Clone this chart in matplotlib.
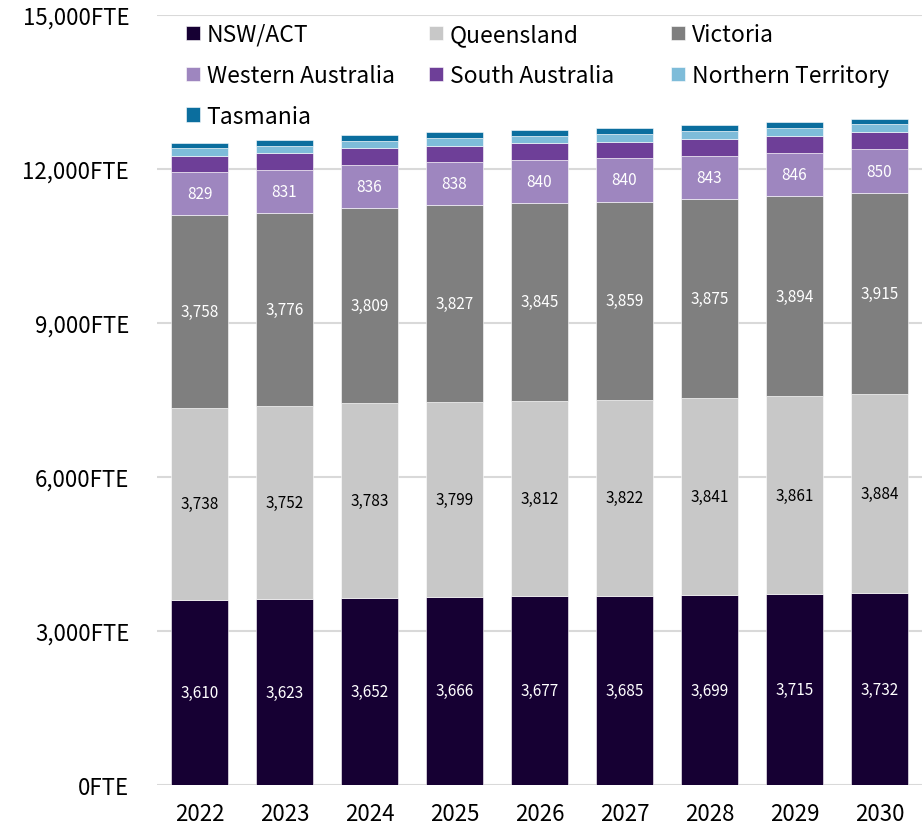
import numpy as np
import matplotlib.pyplot as plt
from matplotlib.ticker import FuncFormatter

plt.rcParams['font.family'] = ['Noto Sans CJK JP', 'DejaVu Sans']

years = ['2022', '2023', '2024', '2025', '2026', '2027', '2028', '2029', '2030']
regions = ['NSW/ACT', 'Queensland', 'Victoria', 'Western Australia',
           'South Australia', 'Northern Territory', 'Tasmania']

nsw = [3610, 3623, 3652, 3666, 3677, 3685, 3699, 3715, 3732]
qld = [3738, 3752, 3783, 3799, 3812, 3822, 3841, 3861, 3884]
vic = [3758, 3776, 3809, 3827, 3845, 3859, 3875, 3894, 3915]
wa = [829, 831, 836, 838, 840, 840, 843, 846, 850]
sa = [318, 320, 322, 324, 325, 326, 328, 330, 332]  # unlabelled, estimated
nt = [150, 151, 152, 153, 153, 154, 155, 156, 157]  # unlabelled, estimated
tas = [104, 105, 106, 107, 107, 108, 109, 110, 111]  # unlabelled, estimated

series = [nsw, qld, vic, wa, sa, nt, tas]
colors = ['#160033', '#c8c8c8', '#7f7f7f', '#9e86bf', '#6e3f98', '#7ebcd9', '#0b6e9e']
label_colors = ['white', 'black', 'white', 'white', None, None, None]

fig = plt.figure(figsize=(9.22, 8.28), dpi=100)
ax = fig.add_axes([157 / 922, 42 / 828, 765 / 922, 770 / 828])

x = np.arange(len(years))
bottom = np.zeros(len(years))
handles = []
for name, vals, col, lc in zip(regions, series, colors, label_colors):
    vals = np.array(vals, dtype=float)
    h = ax.bar(x, vals, 0.67, bottom=bottom, color=col, label=name,
               edgecolor='white', linewidth=0.4, zorder=3)
    handles.append(h)
    if lc is not None:
        for xi, b, v in zip(x, bottom, vals):
            ax.text(xi, b + v / 2, f'{int(v):,}', ha='center', va='center',
                    color=lc, fontsize=11, zorder=4)
    bottom += vals

ax.set_xlim(-0.5, len(years) - 0.5)
ax.set_ylim(0, 15000)
ax.set_yticks(np.arange(0, 15001, 3000))
ax.yaxis.set_major_formatter(FuncFormatter(lambda v, p: f'{int(v):,}FTE'))
ax.set_xticks(x)
ax.set_xticklabels(years)
ax.tick_params(axis='both', length=0, labelsize=16)
ax.tick_params(axis='y', pad=20)
ax.tick_params(axis='x', pad=12)
ax.grid(axis='y', color='#d9d9d9', linewidth=1.5, zorder=0)
for s in ax.spines.values():
    s.set_visible(False)

# legend laid out like Excel: equal-width columns, filled row by row
columns = [[0, 3, 6], [1, 4], [2, 5]]
col_x = [186, 429, 671]
for idxs, cx in zip(columns, col_x):
    leg = fig.legend([handles[i] for i in idxs], [regions[i] for i in idxs],
                     loc='upper left', bbox_to_anchor=(cx / 922, 1 - 24 / 828),
                     frameon=False, fontsize=16.5, handlelength=0.6,
                     handleheight=0.6, handletextpad=0.3, labelspacing=0.78,
                     borderaxespad=0, borderpad=0)

fig.savefig('out.png', dpi=100)
